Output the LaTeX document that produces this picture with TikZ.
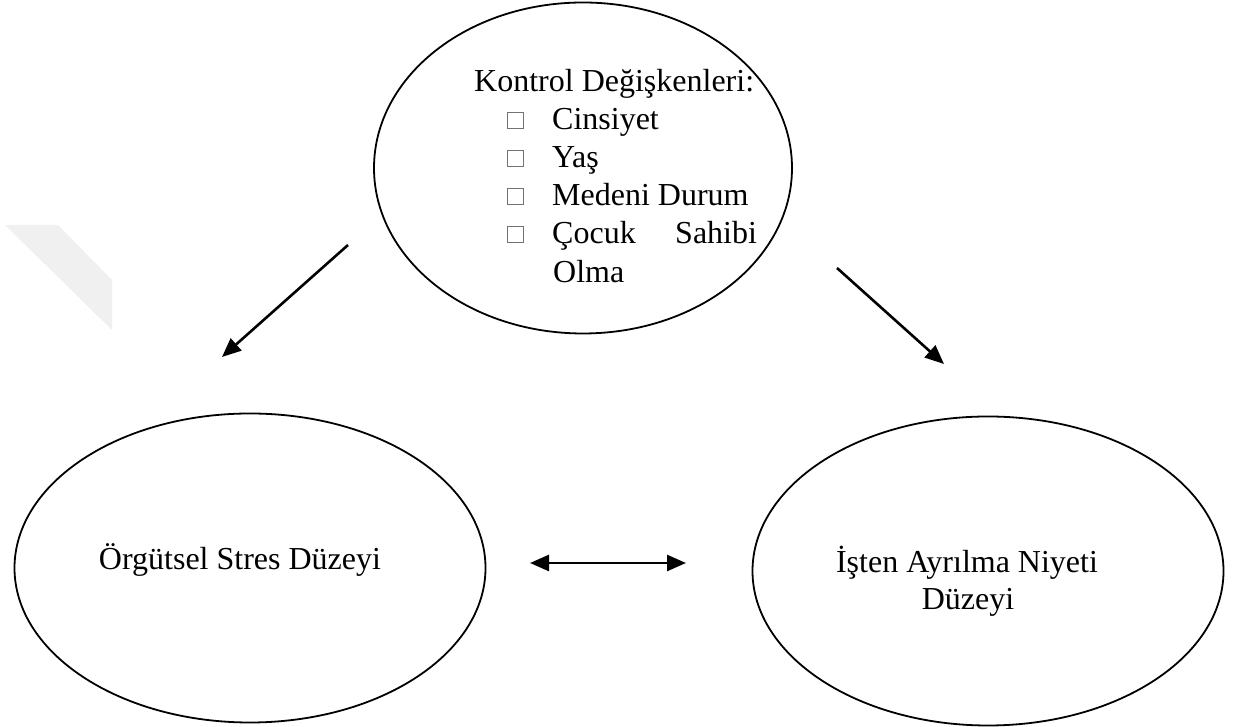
\documentclass[tikz,border=0pt]{standalone}
\usepackage{fontspec}
\setmainfont{Liberation Serif}
\usetikzlibrary{shapes.geometric,arrows.meta}
\tikzset{
  oval/.style={draw=black, line width=1.8pt, ellipse, inner sep=0pt},
  lbl/.style={inner sep=0pt, font=\fontsize{32}{38}\selectfont},
  tip/.style={Triangle[length=19pt,width=16pt]},
  conn/.style={line width=2.6pt, -{Triangle[length=19pt,width=16pt]}},
  chk/.style={draw=black!55, line width=0.7pt},
}
\begin{document}
\begin{tikzpicture}[x=1pt,y=1pt]
\useasboundingbox (0,0) rectangle (1242,727);
% faint watermark fragment
\fill[black!6] (5,502) -- (58,502) -- (112,447) -- (112,397) -- cycle;

% ellipses
\node[oval, minimum width=418pt, minimum height=331pt] (top) at (583,559) {};
\node[oval, minimum width=471pt, minimum height=309pt] (left) at (250,159) {};
\node[oval, minimum width=471pt, minimum height=309pt] (right) at (988,156) {};

% top text
\node[lbl, anchor=base west] (title) at (474,635) {Kontrol Değişkenleri:};
\node[lbl, anchor=base west] (i1) at (552,597) {Cinsiyet};
\node[lbl, anchor=base west] (i2) at (552,559) {Yaş};
\node[lbl, anchor=base west] (i3) at (552,521) {Medeni Durum};
\node[lbl, anchor=base west] (i4a) at (552,483) {Çocuk};
\node[lbl, anchor=base west] (i4b) at (675,483) {Sahibi};
\node[lbl, anchor=base west] (i4c) at (553,444) {Olma};
\foreach \b in {597,559,521,483}{
  \draw[chk] (507,\b+2) rectangle (523,\b+18);
}

% bottom texts
\node[lbl, anchor=base] (ltext) at (240,157) {Örgütsel Stres Düzeyi};
\node[lbl, anchor=base] (rtext1) at (967,154) {İşten Ayrılma Niyeti};
\node[lbl, anchor=base] (rtext2) at (968,117) {Düzeyi};

% connectors
\coordinate (a1s) at (348,482);
\coordinate (a1e) at (222,370);
\coordinate (a2s) at (837,459);
\coordinate (a2e) at (944,363);
\coordinate (a3s) at (530,164);
\coordinate (a3e) at (686,164);
\draw[conn] (a1s) -- (a1e);
\draw[conn] (a2s) -- (a2e);
\draw[line width=2.6pt, {Triangle[length=19pt,width=16pt]}-{Triangle[length=19pt,width=16pt]}] (a3s) -- (a3e);
\end{tikzpicture}
\end{document}
